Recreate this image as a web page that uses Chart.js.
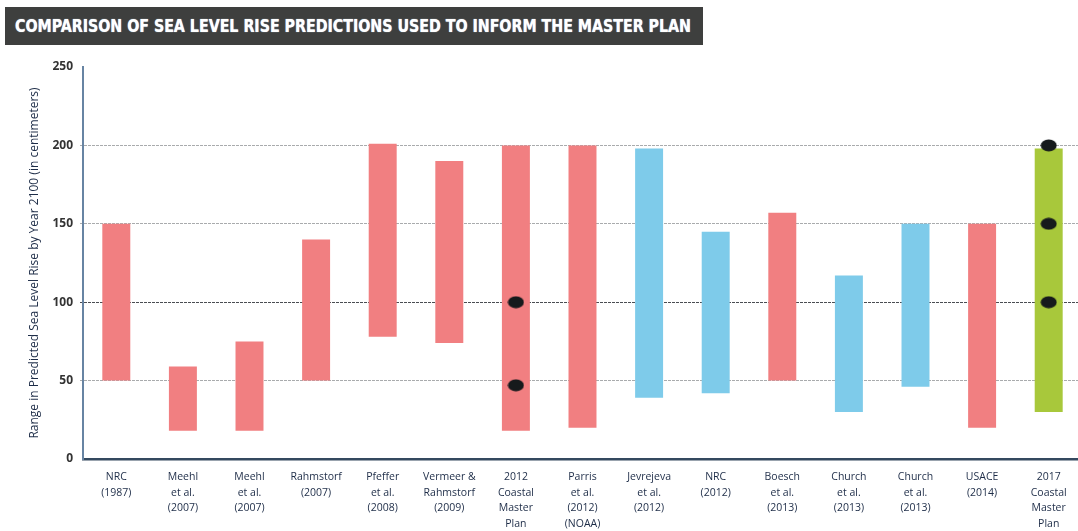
<!DOCTYPE html>
<html>
<head>
<meta charset="utf-8">
<script src="https://cdn.jsdelivr.net/npm/chart.js@4/dist/chart.umd.min.js"></script>
<style>
  html, body { margin: 0; padding: 0; background: #fff; overflow: hidden; }
  #wrap { position: relative; width: 1090px; height: 531px; }
  #titulo {
    position: absolute; left: 5px; top: 7px; width: 698px; height: 38px;
    background: #3e3f3e; overflow: hidden;
  }
  #titulo span {
    position: absolute; left: 10px; top: 9px; white-space: nowrap;
    color: #fff; font: bold 17px "Liberation Sans Narrow", "DejaVu Sans Condensed", sans-serif;
    transform-origin: 0 0; text-shadow: 0 0 1px #cfe6ff;
  }
</style>
</head>
<body>
<div id="wrap">
  <canvas id="grafico"></canvas>
  <div id="titulo"><span id="titulo-texto">COMPARISON OF SEA LEVEL RISE PREDICTIONS USED TO INFORM THE MASTER PLAN</span></div>
</div>
<script>
// categorias (rótulos em várias linhas)
const categorias = [
  ['NRC', '(1987)'],
  ['Meehl', 'et al.', '(2007)'],
  ['Meehl', 'et al.', '(2007)'],
  ['Rahmstorf', '(2007)'],
  ['Pfeffer', 'et al.', '(2008)'],
  ['Vermeer &', 'Rahmstorf', '(2009)'],
  ['2012', 'Coastal', 'Master', 'Plan'],
  ['Parris', 'et al.', '(2012)', '(NOAA)'],
  ['Jevrejeva', 'et al.', '(2012)'],
  ['NRC', '(2012)'],
  ['Boesch', 'et al.', '(2013)'],
  ['Church', 'et al.', '(2013)'],
  ['Church', 'et al.', '(2013)'],
  ['USACE', '(2014)'],
  ['2017', 'Coastal', 'Master', 'Plan']
];

// faixa prevista (cm): mínimo e máximo
const minimos = [50, 18, 18, 50, 78, 74, 18, 20, 39, 42, 50, 30, 46, 20, 30];
const maximos = [150, 59, 75, 140, 201, 190, 200, 200, 198, 145, 157, 117, 150, 150, 198];

// grupo de cada barra (define a cor)
const grupos = ['r', 'r', 'r', 'r', 'r', 'r', 'r', 'r', 'b', 'b', 'r', 'b', 'b', 'r', 'g'];

// marcadores (pontos pretos) por categoria
const marcadorBaixo = [null, null, null, null, null, null, 47, null, null, null, null, null, null, null, 100];
const marcadorMedio = [null, null, null, null, null, null, 100, null, null, null, null, null, null, null, 150];
const marcadorAlto  = [null, null, null, null, null, null, null, null, null, null, null, null, null, null, 200];

const yTicks = [0, 50, 100, 150, 200, 250];

const cores = { r: '#f17f81', b: '#7ecbea', g: '#a8c83b' };

// ajusta o título à largura da faixa escura
const span = document.getElementById('titulo-texto');
const larg = span.getBoundingClientRect().width;
span.style.transform = 'scaleX(' + (676 / larg) + ')';

// ponto elíptico
function criarPonto() {
  const c = document.createElement('canvas');
  c.width = 17; c.height = 13;
  const ctx = c.getContext('2d');
  ctx.fillStyle = '#161a1c';
  ctx.beginPath();
  ctx.ellipse(8.5, 6.5, 8, 6, 0, 0, Math.PI * 2);
  ctx.fill();
  return c;
}
const ponto = criarPonto();

function datasetMarcador(dados) {
  return {
    type: 'line',
    data: dados,
    showLine: false,
    pointStyle: ponto,
    pointRadius: 7,
    order: 0
  };
}

new Chart(document.getElementById('grafico'), {
  type: 'bar',
  data: {
    labels: categorias,
    datasets: [
      {
        data: minimos.map((v, i) => [v, maximos[i]]),
        backgroundColor: grupos.map(g => cores[g]),
        borderWidth: 0,
        barPercentage: 0.42,
        categoryPercentage: 1,
        order: 1
      },
      datasetMarcador(marcadorBaixo),
      datasetMarcador(marcadorMedio),
      datasetMarcador(marcadorAlto)
    ]
  },
  options: {
    responsive: true,
    maintainAspectRatio: false,
    animation: false,
    layout: { padding: { top: 67, right: 2, left: 0, bottom: 0 } },
    plugins: { legend: { display: false }, tooltip: { enabled: false } },
    scales: {
      x: {
        grid: { display: false, drawTicks: false },
        border: { display: true, color: '#34495f', width: 2.5 },
        ticks: {
          padding: 10,
          maxRotation: 0,
          autoSkip: false,
          color: '#1d2c47',
          font: { family: 'Open Sans', size: 10.5, lineHeight: 1.5 }
        },
        afterFit: s => { s.height = 72; }
      },
      y: {
        min: 0,
        max: 250,
        afterBuildTicks: s => { s.ticks = yTicks.map(v => ({ value: v })); },
        grid: {
          color: c => {
            const v = c.tick && c.tick.value;
            if (v === 0 || v === 250) return 'rgba(0,0,0,0)';
            return v === 100 ? '#4a4d52' : '#a9abad';
          },
          lineWidth: 1,
          tickLength: 3
        },
        border: { display: true, color: '#6784a3', width: 2, dash: [3, 1] },
        ticks: {
          padding: 7,
          color: '#333',
          font: { family: 'Open Sans', size: 12, weight: 'bold' }
        },
        title: {
          display: true,
          text: 'Range in Predicted Sea Level Rise by Year 2100 (in centimeters)',
          color: '#1d2c47',
          padding: { top: 27, bottom: 0 },
          font: { family: 'Open Sans', size: 12 }
        },
        afterFit: s => { s.width = 83; }
      }
    }
  }
});
</script>
</body>
</html>
